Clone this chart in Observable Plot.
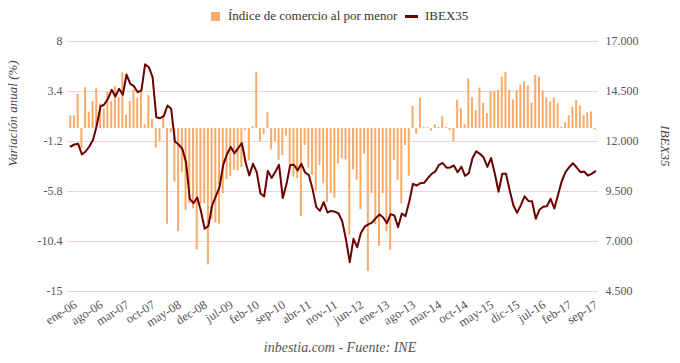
<!DOCTYPE html>
<html><head><meta charset="utf-8">
<script src="https://cdn.jsdelivr.net/npm/d3@7"></script>
<script src="https://cdn.jsdelivr.net/npm/@observablehq/plot@0.6"></script>
<style>
body{margin:0;background:#fff;font-family:"Liberation Serif","Times New Roman",serif;}
#wrap{position:relative;width:680px;height:363px;overflow:hidden;background:#fff;}
#legend{position:relative;height:30px;}
#legend .item{position:absolute;top:1px;height:30px;display:flex;align-items:center;font-size:13px;color:#333;white-space:nowrap;}
#legend .sq{width:9px;height:9px;background:#f8ab6a;margin-right:8px;}
#legend .ln{width:13px;height:3px;background:#6b0000;margin-right:7px;}
#chart svg{display:block;overflow:visible;}
#caption{height:22px;line-height:22px;text-align:center;font-style:italic;font-size:14px;color:#555;}
</style></head><body>
<div id="wrap">
  <div id="legend">
    <div class="item" style="left:211px"><span class="sq"></span>Índice de comercio al por menor</div>
    <div class="item" style="left:405px"><span class="ln"></span>IBEX35</div>
  </div>
  <div id="chart"></div>
  <div id="caption">inbestia.com - Fuente: INE</div>
</div>
<script>
// x tick labels (every 7th month, starting ene-06)
const tickLabels = ["ene-06","ago-06","mar-07","oct-07","may-08","dec-08","jul-09","feb-10","sep-10","abr-11","nov-11","jun-12","ene-13","ago-13","mar-14","oct-14","may-15","dic-15","jul-16","feb-17","sep-17"];
const tickStep = 7;

// Retail trade index, annual variation (%)
const retail = [
  1.16, 1.16, 3.13, -1.87, 3.74, 1.50, 2.48, 3.65, 2.24, 1.81,
  3.34, 2.48, 3.86, 2.85, 5.12, 1.22, 2.48, 3.56, 2.79, 3.40,
  0.33, 3.04, 0.83, -1.81, -1.20, 1.04, -8.81, -0.40, -4.94, -9.50,
  -4.08, -7.55, -6.9, -7.4, -11.17, -7.0, -6.93, -12.56, -8.4, -8.7,
  -8.8, -6.0, -4.7, -4.4, -3.85, -3.9, -3.6, -0.2, -3.0, 0.15,
  5.18, -1.2, -0.56, 1.44, -1.97, -1.2, -2.92, -2.5, -0.7, -3.41,
  -4.48, -4.63, -8.1, -1.57, -3.65, -4.33, -5.77, -3.41, -5.10, -6.8,
  -6.0, -6.42, -3.25, -2.79, -2.89, -9.8, -3.81, -4.79, -7.49, -2.39,
  -13.17, -6.0, -8.84, -10.84, -6.0, -9.5, -11.18, -2.92, -4.79, -6.94,
  -1.57, -4.39, 2.02, -0.56, 2.79, 0.12, 0.1, -0.25, 0.33, 0.09,
  1.07, 0.1, -0.2, -1.2, 2.6, 1.8, 0.33, 4.55, 2.83, 1.66,
  3.72, 2.33, 1.37, 3.42, 3.42, 3.5, 4.72, 5.16, 3.5, 2.62,
  3.5, 4.0, 4.28, 3.9, 2.33, 4.9, 4.73, 3.45, 2.8, 2.43,
  2.8, 2.28, 0.12, 0.52, 1.17, 1.95, 2.58, 2.07, 1.17, 1.42,
  1.51, -0.14
];

// IBEX35 monthly level
const ibex = [
  11750, 11850, 11885, 11350, 11500, 11750, 12085, 12800, 13750, 13850,
  14135, 14585, 14250, 14635, 14335, 15350, 14885, 14765, 14465, 14550,
  15865, 15715, 15215, 13215, 13165, 13265, 13800, 13635, 12000, 11850,
  11635, 10965, 9135, 8915, 9200, 8520, 7635, 7780, 8800, 9260,
  9715, 10840, 11360, 11730, 11410, 11660, 11925, 10965, 10300, 10885,
  10465, 9400, 9250, 10530, 10180, 10490, 10835, 9180, 9870, 10820,
  10835, 10550, 10885, 10450, 10320, 9630, 8720, 8530, 8965, 8450,
  8530, 8490, 8400, 8000, 7090, 5965, 7135, 6715, 7430, 7740,
  7860, 7940, 8170, 8350, 8200, 7920, 8370, 8300, 7720, 8400,
  8270, 9000, 9885, 9800, 9915, 9935, 10165, 10385, 10500, 10835,
  10925, 10690, 10700, 10800, 10465, 10740, 10280, 10415, 11175, 11510,
  11385, 11200, 10730, 11175, 10385, 9490, 10385, 10385, 9550, 8800,
  8435, 8820, 9260, 9030, 9015, 8135, 8590, 8735, 8765, 9135,
  8650, 9340, 10025, 10465, 10715, 10915, 10700, 10465, 10500, 10300,
  10385, 10505
];

// Axis ticks
const leftTicks = [8, 3.4, -1.2, -5.8, -10.4, -15];
const leftTickLabels = ["8", "3.4", "-1.2", "-5.8", "-10.4", "-15"];
const rightTicks = [17000, 14500, 12000, 9500, 7000, 4500];
const rightTickLabels = ["17.000", "14.500", "12.000", "9.500", "7.000", "4.500"];

const leftDomain = [-15, 8];
const rightDomain = [4500, 17000];
const toLeft = v => leftDomain[0] + (v - rightDomain[0]) * (leftDomain[1] - leftDomain[0]) / (rightDomain[1] - rightDomain[0]);

const data = retail.map((r, i) => ({i, retail: r, ibex: ibex[i]}));
const xTicks = tickLabels.map((_, k) => k * tickStep);
const rightPos = rightTicks.map(toLeft);
const fmtLeft = d => leftTickLabels[leftTicks.findIndex(t => Math.abs(t - d) < 1e-6)];
const fmtRight = d => rightTickLabels[rightPos.findIndex(t => Math.abs(t - d) < 1e-6)];
const fmtX = d => tickLabels[d / tickStep];
const SERIF = "Liberation Serif, DejaVu Serif, serif";

const chart = Plot.plot({
  width: 680,
  height: 307,
  marginTop: 11,
  marginBottom: 46,
  marginLeft: 67,
  marginRight: 82,
  style: {fontSize: "12px", color: "#666", background: "transparent"},
  x: {type: "band", domain: d3.range(retail.length), paddingInner: 0.46, paddingOuter: 0.6, label: null},
  y: {domain: leftDomain, label: null},
  marks: [
    Plot.ruleY(leftTicks, {stroke: "#f4d2d2", strokeWidth: 1}),
    Plot.barY(data, {x: "i", y: "retail", fill: "#f8ab6a"}),
    Plot.line(data, {x: "i", y: d => toLeft(d.ibex), stroke: "#6b0000", strokeWidth: 2, curve: "linear"}),
    Plot.axisY(leftTicks, {anchor: "left", tickSize: 0, tickPadding: 5, tickFormat: fmtLeft, fontSize: 12, fontFamily: SERIF, fill: "#555", label: null}),
    Plot.axisY(rightPos, {anchor: "right", tickSize: 0, tickPadding: 7, tickFormat: fmtRight, fontSize: 12, fontFamily: SERIF, fill: "#555", label: null}),
    Plot.axisX(xTicks, {anchor: "bottom", tickSize: 0, tickPadding: 12, dx: 5, tickRotate: -32, tickFormat: fmtX, fontSize: 12.5, fontFamily: SERIF, fill: "#555", label: null}),
    Plot.text(["Variación anual (%)"], {frameAnchor: "left", dx: -55, rotate: -90, fontSize: 13, fontFamily: SERIF, fontStyle: "italic", fill: "#444"}),
    Plot.text(["IBEX35"], {frameAnchor: "right", dx: 67, rotate: 90, fontSize: 13, fontFamily: SERIF, fontStyle: "italic", fill: "#444"})
  ]
});
document.getElementById("chart").appendChild(chart);
</script>
</body></html>
